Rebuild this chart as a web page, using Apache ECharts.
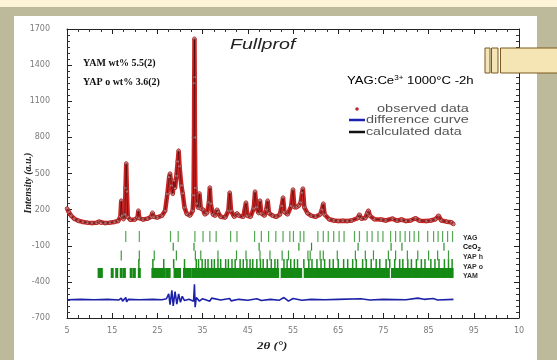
<!DOCTYPE html>
<html>
<head>
<meta charset="utf-8">
<script src="https://cdn.jsdelivr.net/npm/echarts@6/dist/echarts.min.js"></script>
<style>
  html, body { margin: 0; padding: 0; background: #fff; }
  #chart { width: 557px; height: 360px; }
</style>
</head>
<body>
<div id="chart"></div>
<script>
// observed pattern, [2θ, intensity] (calculated curve sits on top of it)
const observed = [
  [5.0, 210], [5.4, 180], [5.9, 150], [6.6, 125], [7.5, 108], [8.5, 98], [9.5, 92], [10.5, 88],
  [11.5, 90], [12.1, 100], [12.5, 90], [13.5, 88], [14.5, 92], [15.5, 98], [16.3, 105], [16.8, 140],
  [17.0, 275], [17.2, 150], [17.5, 120], [17.8, 160], [17.95, 380], [18.1, 584], [18.25, 350], [18.45, 140],
  [19.0, 115], [20.0, 118], [20.6, 135], [20.8, 192], [21.0, 130], [21.8, 118], [22.8, 125], [23.6, 140],
  [23.9, 175], [24.2, 140], [25.0, 135], [26.0, 150], [26.7, 190], [27.2, 330], [27.6, 470], [27.8, 500],
  [28.1, 400], [28.4, 330], [28.6, 440], [28.9, 380], [29.2, 480], [29.5, 600], [29.7, 690], [29.9, 560],
  [30.3, 400], [30.6, 335], [31.0, 217], [31.5, 165], [32.2, 150], [32.8, 190], [33.0, 320], [33.1, 800],
  [33.15, 1250], [33.2, 1620], [33.25, 1300], [33.3, 800], [33.4, 380], [33.7, 250], [34.0, 215], [34.3, 335],
  [34.6, 210], [35.1, 200], [35.5, 160], [36.0, 175], [36.4, 260], [36.6, 384], [36.8, 250], [37.3, 160],
  [37.8, 150], [38.2, 200], [38.4, 180], [39.0, 140], [40.0, 135], [40.7, 190], [41.0, 342], [41.3, 190],
  [42.0, 140], [42.6, 170], [43.0, 150], [44.0, 140], [44.6, 259], [44.9, 150], [45.6, 140], [46.3, 210],
  [46.6, 350], [46.9, 220], [47.4, 170], [47.7, 275], [48.0, 170], [48.7, 150], [49.1, 200], [49.4, 275],
  [49.7, 170], [50.5, 150], [51.3, 140], [52.1, 160], [52.5, 230], [52.8, 300], [53.1, 180], [53.8, 160],
  [54.6, 230], [55.0, 367], [55.3, 220], [55.8, 220], [56.3, 234], [56.7, 260], [57.0, 340], [57.2, 375],
  [57.5, 220], [58.2, 170], [59.0, 150], [60.0, 140], [61.0, 160], [61.4, 200], [61.7, 250], [62.0, 160],
  [63.0, 120], [64.0, 110], [65.0, 105], [66.0, 108], [67.0, 105], [68.0, 110], [69.3, 130], [69.7, 159],
  [70.1, 125], [71.0, 130], [71.4, 170], [71.7, 192], [72.0, 150], [73.0, 120], [74.5, 118], [75.5, 110],
  [77.0, 125], [78.0, 108], [79.0, 118], [80.0, 105], [81.0, 110], [82.1, 128], [83.0, 108], [84.5, 105],
  [85.5, 110], [86.5, 120], [87.2, 150], [87.8, 110], [89.0, 100], [90.0, 95], [90.5, 80]
];

// difference curve (obs - calc, shifted)
const difference = [
  [5, -548], [8, -545], [11, -548], [14, -545], [16.5, -550], [17.0, -535], [17.3, -560], [18.0, -530],
  [18.2, -565], [18.6, -545], [21, -548], [24, -545], [26, -548], [27.0, -540], [27.5, -500], [27.8, -590],
  [28.2, -470], [28.5, -600], [28.9, -480], [29.3, -585], [29.7, -500], [30.1, -570], [30.5, -520], [31.0, -555],
  [32.0, -545], [33.0, -560], [33.2, -420], [33.35, -610], [33.6, -530], [34.3, -560], [35, -540], [36.6, -560],
  [37, -535], [39, -550], [41, -538], [41.3, -558], [43, -545], [45, -552], [47, -540], [48, -555],
  [50, -545], [52, -552], [53, -530], [54, -560], [55, -538], [57, -552], [59, -545], [62, -548],
  [65, -545], [70, -540], [72, -550], [75, -545], [80, -548], [82.6, -535], [84, -545], [86, -538],
  [87, -550], [90.5, -545]
];

// Bragg reflection positions (2θ) per phase
const yagPeaks = [18.0, 21.0, 27.9, 29.6, 33.3, 35.1, 36.6, 38.0, 41.2, 42.6, 46.5, 48.0, 49.6, 51.2, 52.8,
  54.3, 55.1, 56.6, 57.4, 60.5, 61.7, 62.8, 64.0, 65.2, 66.3, 68.6, 69.7, 71.4, 72.5, 73.8, 74.9, 76.6,
  77.7, 78.7, 79.8, 80.8, 81.8, 82.8, 84.8, 86.1, 87.1, 88.1, 89.2, 90.3];
const ceo2Peaks = [28.5, 33.1, 47.5, 56.3, 59.1, 69.4, 76.7, 79.1, 88.4];
const yapHPeaks = [17.0, 21.0, 24.3, 29.2, 33.4, 34.6, 38.4, 42.5, 44.6, 47.7, 49.9, 52.6, 54.0, 58.3, 58.8,
  61.0, 61.7, 64.8, 68.8, 71.0, 72.8, 76.1, 77.7, 80.3, 82.6, 85.0, 87.0, 89.4];
const yapOPeaks = [20.9, 24.0, 26.4, 28.6, 31.0, 33.6, 34.1, 34.9, 35.6, 36.2, 37.0, 37.6, 38.4, 39.0, 40.1,
  40.7, 41.5, 42.2, 43.3, 44.0, 44.8, 45.5, 46.1, 47.0, 47.8, 48.4, 49.3, 50.2, 51.0, 51.6, 53.0, 53.7,
  54.5, 55.3, 56.0, 57.4, 58.5, 59.2, 60.3, 61.2, 62.0, 63.1, 63.9, 65.0, 66.2, 67.1, 68.2, 69.0, 70.4,
  71.2, 72.3, 73.4, 74.2, 75.6, 76.4, 77.5, 78.6, 79.3, 80.4, 81.2, 82.3, 83.4, 84.2, 85.5, 86.4, 87.3,
  88.5, 89.4, 90.2];
const yamPeaks = [12.1, 12.6, 15.0, 16.0, 17.0, 17.7, 19.2, 19.9, 21.0,
  24.0, 24.5, 25.0, 25.5, 26.0, 26.5, 27.1, 27.6, 28.9, 29.4, 29.9, 31.0, 31.5, 32.1,
  32.8, 33.3, 33.7, 34.2, 34.7, 35.2, 35.6, 36.1, 36.6, 37.0, 37.5, 38.0, 38.5, 38.9, 39.4, 39.9, 40.3,
  40.8, 41.3, 41.8, 42.2, 42.7, 43.2, 43.6, 44.1, 44.6, 45.1, 45.5, 46.0, 46.5, 47.0, 47.4, 47.9, 48.4,
  48.9, 49.3, 49.8, 50.3, 50.8, 51.2, 51.6, 52.6, 53.0, 53.4, 53.9, 54.4, 54.8, 55.3, 55.8, 56.3, 56.7,
  57.7, 58.1, 58.6, 59.0, 59.5, 60.0, 60.5, 60.9, 61.4, 61.9, 62.4, 62.8, 63.3, 63.8, 64.3, 64.7, 65.2,
  65.7, 66.2, 66.6, 67.1, 67.6, 68.1, 68.5, 69.0, 69.5, 70.0, 70.4, 70.9, 71.4, 71.9, 72.3, 72.8, 73.3,
  73.8, 74.2, 74.7, 75.2, 75.7, 76.1, 77.0, 77.4, 77.9, 78.4, 78.8, 79.3, 79.8, 80.3, 80.7, 81.2, 81.7,
  82.2, 82.6, 83.1, 83.6, 84.1, 84.5, 85.0, 85.5, 86.0, 86.4, 86.9, 87.4, 87.9, 88.3, 88.8, 89.3, 89.8, 90.2];

const phaseNames = ['YAG', 'CeO2', 'YAP h', 'YAP o', 'YAM'];

// tick labels
const xTickLabels = ['5', '15', '25', '35', '45', '55', '65', '75', '85', '95', '10'];
const yTickLabels = ['-700', '-400', '-100', '200', '500', '800', '1100', '1400', '1700'];

// axis offsets so ticks start on min
const X0 = 5, Y0 = -700;
const shift = (arr) => arr.map(p => [p[0] - X0, p[1] - Y0]);
const tickRow = (arr, y) => arr.map(x => [x - X0, y - Y0]);

const chart = echarts.init(document.getElementById('chart'));

const sans = 'Liberation Sans, Arial, sans-serif';
const serif = 'Liberation Serif, Times New Roman, serif';

const tickSeries = (name, peaks, yc, size, color) => ({
  name: name,
  type: 'scatter',
  data: tickRow(peaks, yc),
  symbol: 'rect',
  symbolSize: size,
  itemStyle: { color: color, opacity: 1 },
  silent: true,
  z: 1,
});

const axisCommon = {
  type: 'value',
  axisLine: { show: true, onZero: false, lineStyle: { color: '#222', width: 1 } },
  axisTick: { show: true, inside: true, length: 5, lineStyle: { color: '#222' } },
  splitLine: { show: false },
};

const option = {
  animation: false,
  backgroundColor: 'transparent',
  grid: { left: 67, right: 38, top: 29, bottom: 42 },
  xAxis: [
    Object.assign({}, axisCommon, {
      min: 0, max: 100, interval: 10,
      minorTick: { show: true, splitNumber: 4, length: 3, lineStyle: { color: '#333' } },
      axisLabel: {
        margin: 9, color: '#7a7a7a', fontSize: 8, fontFamily: 'DejaVu Sans',
        formatter: v => xTickLabels[Math.round(v / 10)] || ''
      },
    }),
    Object.assign({}, axisCommon, {
      position: 'top', min: 0, max: 100, interval: 10,
      minorTick: { show: true, splitNumber: 4, length: 3, lineStyle: { color: '#333' } },
      axisLabel: { show: false },
    }),
  ],
  yAxis: [
    Object.assign({}, axisCommon, {
      min: 0, max: 2400, interval: 300,
      minorTick: { show: true, splitNumber: 6, length: 3, lineStyle: { color: '#333' } },
      axisLabel: {
        margin: 17, color: '#7a7a7a', fontSize: 8, fontFamily: 'DejaVu Sans',
        formatter: v => yTickLabels[Math.round(v / 300)] || ''
      },
    }),
    Object.assign({}, axisCommon, {
      position: 'right', min: 0, max: 2400, interval: 300,
      minorTick: { show: true, splitNumber: 6, length: 3, lineStyle: { color: '#333' } },
      axisLabel: { show: false },
    }),
  ],
  series: [
    tickSeries(phaseNames[4], yamPeaks, -326, [3, 10], '#148a14'),
    tickSeries(phaseNames[3], yapOPeaks, -248, [1.5, 9], '#1f8f1f'),
    tickSeries(phaseNames[2], yapHPeaks, -180, [1.2, 10], '#3d9a3d'),
    tickSeries(phaseNames[1], ceo2Peaks, -108, [1.2, 8], '#2f8f2f'),
    tickSeries(phaseNames[0], yagPeaks, -23, [1.2, 11], '#55a855'),
    {
      name: 'difference curve',
      type: 'line',
      data: shift(difference),
      symbol: 'none',
      lineStyle: { color: '#1c22a8', width: 1.6 },
      z: 2,
    },
    {
      name: 'observed data',
      type: 'line',
      data: shift(observed),
      symbol: 'circle',
      symbolSize: 3.5,
      showAllSymbol: true,
      itemStyle: { color: '#e08080', borderColor: '#9a2626', borderWidth: 0.8 },
      lineStyle: { color: '#cc2424', width: 4.5 },
      z: 3,
    },
    {
      name: 'calculated data',
      type: 'line',
      data: shift(observed),
      symbol: 'none',
      lineStyle: { color: '#000', width: 1, opacity: 0.4 },
      z: 4,
    },
  ],
  graphic: [
    // slide frame
    { type: 'rect', silent: true, z: -10, shape: { x: 0, y: 0, width: 557, height: 360 }, style: { fill: '#bdb99b' } },
    { type: 'rect', silent: true, z: -10, shape: { x: 0, y: 0, width: 557, height: 7 }, style: { fill: '#fdf4d8' } },
    { type: 'rect', silent: true, z: -9, shape: { x: 14, y: 16, width: 523, height: 344 }, style: { fill: '#ffffff' } },
    // texts in the plot
    { type: 'text', x: 230, y: 45, scaleX: 1.4, z: 10,
      style: { text: 'Fullprof', font: 'italic 14px ' + sans, fill: '#222', align: 'left', verticalAlign: 'middle' } },
    { type: 'text', x: 83, y: 63, z: 10,
      style: { text: 'YAM wt% 5.5(2)', font: 'bold 10px ' + serif, fill: '#111', align: 'left', verticalAlign: 'middle' } },
    { type: 'text', x: 83, y: 82, z: 10,
      style: { text: 'YAP o wt% 3.6(2)', font: 'bold 10px ' + serif, fill: '#111', align: 'left', verticalAlign: 'middle' } },
    { type: 'text', x: 347, y: 81, scaleX: 1.25, z: 10,
      style: {
        text: '{n|YAG:Ce}{s|3+}{n| 1000°C -2h}', align: 'left', verticalAlign: 'middle',
        rich: {
          n: { fontSize: 10.5, fontFamily: sans, color: '#333', lineHeight: 12 },
          s: { fontSize: 6.5, fontFamily: sans, color: '#333', lineHeight: 7, verticalAlign: 'top' }
        }
      } },
    // legend
    { type: 'circle', z: 10, shape: { cx: 357, cy: 109, r: 1.8 }, style: { fill: '#c0262b' } },
    { type: 'line', z: 10, shape: { x1: 349, y1: 120, x2: 365, y2: 120 }, style: { stroke: '#1a22b0', lineWidth: 2.5 } },
    { type: 'line', z: 10, shape: { x1: 349, y1: 132, x2: 365, y2: 132 }, style: { stroke: '#111', lineWidth: 2.5 } },
    { type: 'text', x: 377, y: 109, scaleX: 1.45, z: 10,
      style: { text: 'observed data', font: '10px ' + sans, fill: '#555', align: 'left', verticalAlign: 'middle' } },
    { type: 'text', x: 366, y: 120.5, scaleX: 1.45, z: 10,
      style: { text: 'difference curve', font: '10px ' + sans, fill: '#555', align: 'left', verticalAlign: 'middle' } },
    { type: 'text', x: 366, y: 132, scaleX: 1.42, z: 10,
      style: { text: 'calculated data', font: '10px ' + sans, fill: '#555', align: 'left', verticalAlign: 'middle' } },
    // phase labels
    { type: 'text', x: 463, y: 238, z: 10,
      style: { text: 'YAG', font: 'bold 7px ' + sans, fill: '#333', align: 'left', verticalAlign: 'middle' } },
    { type: 'text', x: 463, y: 247.5, z: 10,
      style: {
        text: '{a|CeO}{b|2}', align: 'left', verticalAlign: 'middle',
        rich: {
          a: { fontSize: 7, fontWeight: 'bold', fontFamily: sans, color: '#333', lineHeight: 9 },
          b: { fontSize: 6, fontWeight: 'bold', fontFamily: sans, color: '#333', lineHeight: 6, verticalAlign: 'bottom' }
        }
      } },
    { type: 'text', x: 463, y: 257, z: 10,
      style: { text: 'YAP h', font: 'bold 7px ' + sans, fill: '#333', align: 'left', verticalAlign: 'middle' } },
    { type: 'text', x: 463, y: 267, z: 10,
      style: { text: 'YAP o', font: 'bold 7px ' + sans, fill: '#333', align: 'left', verticalAlign: 'middle' } },
    { type: 'text', x: 463, y: 276.5, z: 10,
      style: { text: 'YAM', font: 'bold 7px ' + sans, fill: '#333', align: 'left', verticalAlign: 'middle' } },
    // axis titles
    { type: 'text', x: 28, y: 183, rotation: Math.PI / 2, z: 10,
      style: { text: 'Intensity (a.u.)', font: 'italic bold 10px ' + serif, fill: '#222', align: 'center', verticalAlign: 'middle' } },
    { type: 'text', x: 257, y: 346, scaleX: 1.3, z: 10,
      style: { text: '2θ (°)', font: 'italic bold 10px ' + serif, fill: '#222', align: 'left', verticalAlign: 'middle' } },
    // slide decoration at top right
    { type: 'rect', z: 100, shape: { x: 485, y: 48, width: 5, height: 25 }, style: { fill: '#f5e4b4', stroke: '#7a5a1e', lineWidth: 1 } },
    { type: 'rect', z: 100, shape: { x: 491.5, y: 48, width: 6.5, height: 25 }, style: { fill: '#f5e4b4', stroke: '#7a5a1e', lineWidth: 1 } },
    { type: 'rect', z: 100, shape: { x: 500.5, y: 48, width: 60, height: 25 }, style: { fill: '#f5e4b4', stroke: '#7a5a1e', lineWidth: 1 } },
  ],
};

chart.setOption(option);
</script>
</body>
</html>
